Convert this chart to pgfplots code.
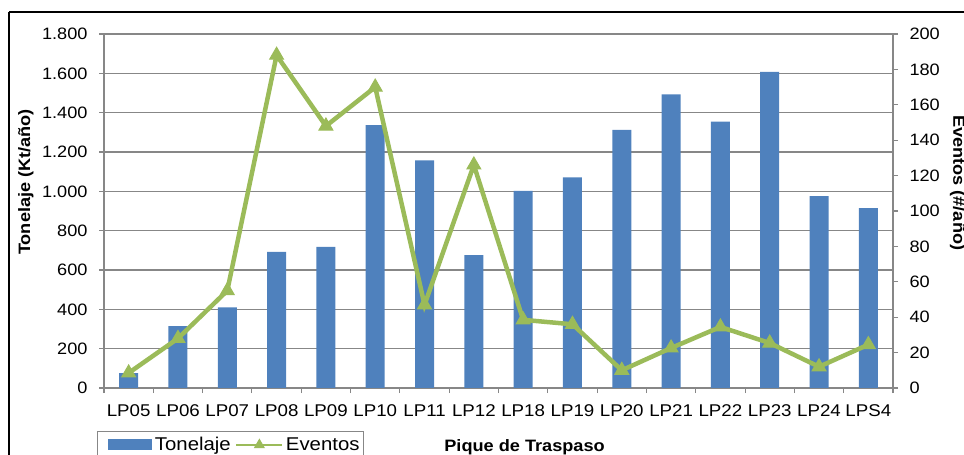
\documentclass[border=0pt]{standalone}
\usepackage{fontspec}
\setmainfont{Liberation Sans}[FakeStretch=1.1]
\usepackage{pgfplots}
\usepackage{pgfplotstable}
\pgfplotsset{compat=1.18}
\definecolor{barblue}{HTML}{4F81BD}
\definecolor{linegreen}{HTML}{9BBB59}
\definecolor{gridgray}{HTML}{878787}

\pgfplotstableread{
x ton ev
0 75 8.5
1 315 28
2 410 55
3 692 188
4 717 148
5 1337 170
6 1158 47
7 675 126
8 1002 38.5
9 1071 36
10 1312 10
11 1493 22.6
12 1354 34.5
13 1607 25.4
14 975 12
15 915 24.5
}\data

\pgfplotsset{
  common/.style={
    at={(104pt,67pt)}, anchor=south west,
    scale only axis, width=789pt, height=354pt,
    xmin=-0.5, xmax=15.5,
    axis line style={gridgray, line width=1.2pt, -},
    tick style={gridgray, line width=1.1pt},
    tick align=outside, major tick length=5pt,
    /pgf/number format/.cd, 1000 sep={.}, assume math mode=true,
  },
}

\begin{document}
\begin{tikzpicture}
\begin{axis}[common,
  ymin=0, ymax=1800, ytick={0,200,...,1800},
  axis y line*=left, axis x line*=bottom,
  xtick={-0.5,0.5,...,15.5}, xticklabels={},
  extra x ticks={0,...,15},
  extra x tick labels={LP05,LP06,LP07,LP08,LP09,LP10,LP11,LP12,LP18,LP19,LP20,LP21,LP22,LP23,LP24,LPS4},
  extra x tick style={major tick length=0pt},
  x tick label style={font=\fontsize{17}{19}\selectfont, yshift=-13pt},
  y tick label style={font=\fontsize{16.5}{18}\selectfont, xshift=-8pt},
  ymajorgrids, grid style={gridgray, line width=1.2pt},
  ylabel={\bfseries Tonelaje (Kt/año)},
  ylabel style={font=\fontsize{16.5}{18}\selectfont, at={(axis description cs:-0.0989,0.582)}, anchor=center, rotate=0},
  xlabel={\bfseries Pique de Traspaso},
  xlabel style={font=\fontsize{16.5}{18}\selectfont, at={(axis description cs:0.533,-0.167)}, anchor=center},
]
\addplot[ybar, bar width=19pt, fill=barblue, draw=none] table[x=x,y=ton]{\data};
\end{axis}
\begin{axis}[common,
  ymin=0, ymax=200, ytick={0,20,...,200},
  axis y line*=right, axis x line=none,
  y tick label style={font=\fontsize{16.5}{18}\selectfont, xshift=8pt},
  ylabel={\bfseries Eventos (\#/año)},
  ylabel style={font=\fontsize{16.5}{18}\selectfont, at={(axis description cs:1.082,0.58)}, anchor=center, rotate=180},
  legend columns=2,
  legend style={at={(axis description cs:-0.0089,-0.1215)}, anchor=north west,
    draw=gridgray, line width=1pt, font=\fontsize{18.5}{21}\selectfont,
    inner xsep=1pt, inner ysep=4pt,
    nodes={inner xsep=2.5pt},
    /tikz/every even column/.append style={column sep=2pt}},
]
\addlegendimage{legend image code/.code={\path (-10pt,0pt); \fill[barblue] (0pt,-5pt) rectangle (43pt,5pt);}}
\addlegendentry{Tonelaje}
\addplot[linegreen, line width=4.5pt, mark=triangle*, mark size=8pt,
  mark options={solid, fill=linegreen, draw=linegreen, line width=1pt},
  legend image code/.code={\draw[line width=2.2pt, mark size=5.5pt, mark repeat=2, mark phase=2] plot coordinates {(0pt,0pt) (23pt,0pt) (46pt,0pt)};}
] table[x=x,y=ev]{\data};
\addlegendentry{Eventos}
\end{axis}
\draw[black, line width=1.3pt] (9pt,443pt) -- (1000pt,443pt);
\draw[black, line width=1.3pt] (9pt,443pt) -- (9pt,-50pt);
\pgfresetboundingbox
\path[use as bounding box] (0pt,0pt) rectangle (964pt,455pt);
\end{tikzpicture}
\end{document}
